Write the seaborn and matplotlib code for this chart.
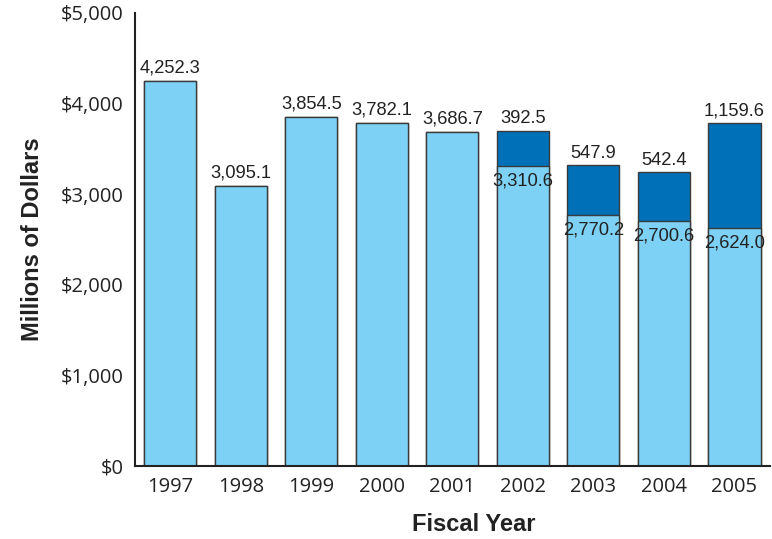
import matplotlib
matplotlib.use("Agg")
import matplotlib.pyplot as plt
import seaborn as sns
import pandas as pd
from matplotlib.ticker import FixedLocator, FuncFormatter

years = ["1997", "1998", "1999", "2000", "2001", "2002", "2003", "2004", "2005"]
base_vals = [4252.3, 3095.1, 3854.5, 3782.1, 3686.7, 3310.6, 2770.2, 2700.6, 2624.0]
extra_vals = [0, 0, 0, 0, 0, 392.5, 547.9, 542.4, 1159.6]
y_ticks = [0, 1000, 2000, 3000, 4000, 5000]

light = "#7DD1F5"
dark = "#0070B8"
edge = "#3a3a3a"

df = pd.DataFrame({"year": years, "base": base_vals, "extra": extra_vals})
df["total"] = df["base"] + df["extra"]

sns.set_style("white")
plt.rcParams["font.family"] = ["Liberation Sans", "DejaVu Sans"]

fig = plt.figure(figsize=(7.72, 5.39), dpi=100)
ax = fig.add_axes([0.175, 0.135, 0.822, 0.841])

sns.barplot(data=df, x="year", y="total", color=dark, edgecolor=edge,
            linewidth=1, width=0.74, saturation=1, ax=ax)
sns.barplot(data=df, x="year", y="base", color=light, edgecolor=edge,
            linewidth=1, width=0.74, saturation=1, ax=ax)

def fmt(v):
    return f"{v:,.1f}"

for i, row in df.iterrows():
    if row["extra"] > 0:
        ax.text(i, row["total"] + 40, fmt(row["extra"]), ha="center", va="bottom",
                fontsize=13.2, color="#222222")
        ax.text(i, row["base"] - 70, fmt(row["base"]), ha="center", va="top",
                fontsize=13.2, color="#222222")
    else:
        ax.text(i, row["base"] + 50, fmt(row["base"]), ha="center", va="bottom",
                fontsize=13.2, color="#222222")

ax.set_xlim(-0.5, 8.5)
ax.set_ylim(0, 5000)
ax.yaxis.set_major_locator(FixedLocator(y_ticks))
ax.yaxis.set_major_formatter(FuncFormatter(lambda v, p: f"${v:,.0f}"))

for s in ["top", "right"]:
    ax.spines[s].set_visible(False)
for s in ["left", "bottom"]:
    ax.spines[s].set_color("#222222")
    ax.spines[s].set_linewidth(1.5)

ax.tick_params(axis="y", direction="in", length=8, width=1.5, color="#222222",
               labelsize=14.5, labelcolor="#222222", pad=8)
ax.tick_params(axis="x", which="major", length=0, labelsize=14.5, labelcolor="#222222", pad=8)
ax.xaxis.set_minor_locator(FixedLocator([i + 0.5 for i in range(len(years))]))
ax.tick_params(axis="x", which="minor", direction="in", length=10, width=1.5, color="#222222")

for lab in ax.get_xticklabels() + ax.get_yticklabels():
    lab.set_fontfamily(["Open Sans", "DejaVu Sans"])

yt = ax.yaxis.get_major_ticks()
yt[-1].tick1line.set_markersize(16)

ax.set_xlabel("Fiscal Year", fontsize=17, fontweight="bold", color="#222222")
ax.xaxis.set_label_coords(0.534, -0.103)
ax.set_ylabel("Millions of Dollars", fontsize=17, fontweight="bold", color="#222222", labelpad=12)

fig.savefig("out.png", dpi=100)
